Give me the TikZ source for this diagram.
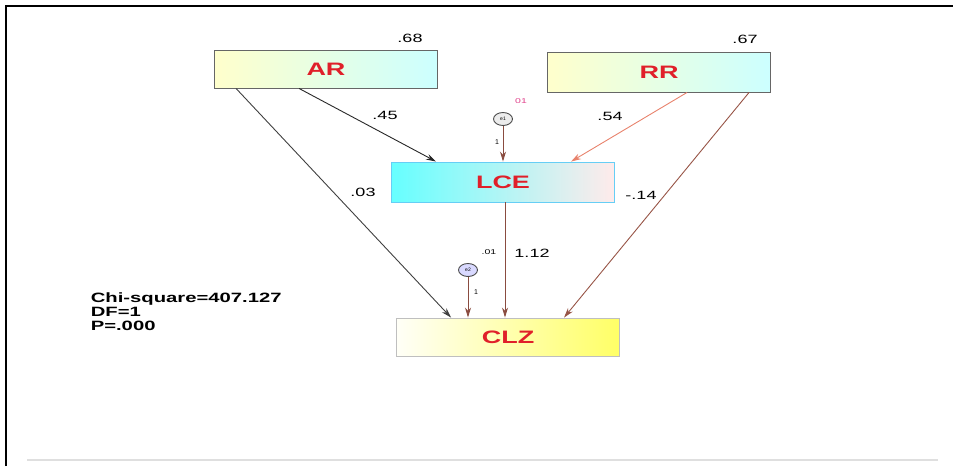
\documentclass[tikz,border=0pt]{standalone}
\usepackage{fontspec}
\setmainfont{Liberation Sans}
\usepackage{xcolor}
\usepackage{graphicx}
\usetikzlibrary{arrows.meta,shapes.geometric}
\definecolor{labred}{HTML}{E0202A}
\definecolor{salmon}{HTML}{E8826C}
\definecolor{pathbrown}{HTML}{8A4C40}
\definecolor{errpink}{HTML}{E0408A}
\newcommand{\wide}[1]{\scalebox{1.5}[1]{#1}}
\begin{document}
\begin{tikzpicture}[x=1pt,y=-1pt,>={Stealth[length=10pt,width=6pt]},
  varbox/.style={draw=gray!80!black,minimum width=223pt,minimum height=38pt,inner sep=0pt,
    font=\fontsize{18}{18}\selectfont\bfseries,text=labred},
  errnode/.style={draw=gray!60!black,ellipse,minimum width=19pt,minimum height=13pt,inner sep=0pt,
    font=\fontsize{5}{5}\selectfont},
  coef/.style={font=\fontsize{12}{12}\selectfont},
  small/.style={font=\fontsize{7}{7}\selectfont},
  every path/.style={line width=0.9pt}]
\useasboundingbox (0,0) rectangle (953,466);
\draw[line width=2pt](6,466)--(6,6)--(953,6);
\draw[gray!25,line width=2pt](27,460)--(938,460);
% observed variables
\node[varbox,left color=yellow!20,right color=cyan!20](AR)at(326,69){\wide{AR}};
\node[varbox,left color=yellow!20,right color=cyan!20,minimum height=40pt](RR)at(659,72){\wide{RR}};
\node[varbox,draw=cyan!60,left color=cyan!60,right color=red!8,minimum height=40pt](LCE)at(503,182){\wide{LCE}};
\node[varbox,draw=gray!50,left color=yellow!3,right color=yellow!60](CLZ)at(508,337){\wide{CLZ}};
% errors
\node[errnode,fill=gray!15](e1)at(503,119){e1};
\node[errnode,fill=blue!15](e2)at(468,270){e2};
% paths
\draw[->,black!85](AR.south west)++(85,0)--([xshift=45pt]LCE.north west);
\draw[->,black!75](AR.south west)++(22,0)--([xshift=55pt]CLZ.north west);
\draw[->,salmon](RR.south west)++(140,0)--([xshift=180pt]LCE.north west);
\draw[->,salmon!65!black](RR.south west)++(202,0)--([xshift=168pt]CLZ.north west);
\draw[->,pathbrown](e1.south)--(e1.south|-LCE.north);
\draw[->,pathbrown]([xshift=2pt]LCE.south)--([xshift=2pt]LCE.south|-CLZ.north);
\draw[->,pathbrown](e2.south)--(e2.south|-CLZ.north);
% estimates
\draw(410,38)node[coef]{\wide{.68}}
(745,39)node[coef]{\wide{.67}}
(385,115)node[coef]{\wide{.45}}
(610,116)node[coef]{\wide{.54}}
(363,192)node[coef]{\wide{.03}}
(641,195)node[coef]{\wide{-.14}}
(532,253)node[coef]{\wide{1.12}}
(489,252)node[small]{\wide{.01}}
(521,101)node[small,text=errpink]{\wide{01}}
(497,142)node[small]{1}
(476,292)node[small]{1};
\node[anchor=north west,align=left,font=\fontsize{13.5}{14}\selectfont\bfseries](fit)at(87,289)
{\wide{Chi-square=407.127}\\\wide{DF=1}\\\wide{P=.000}};
\end{tikzpicture}
\end{document}
